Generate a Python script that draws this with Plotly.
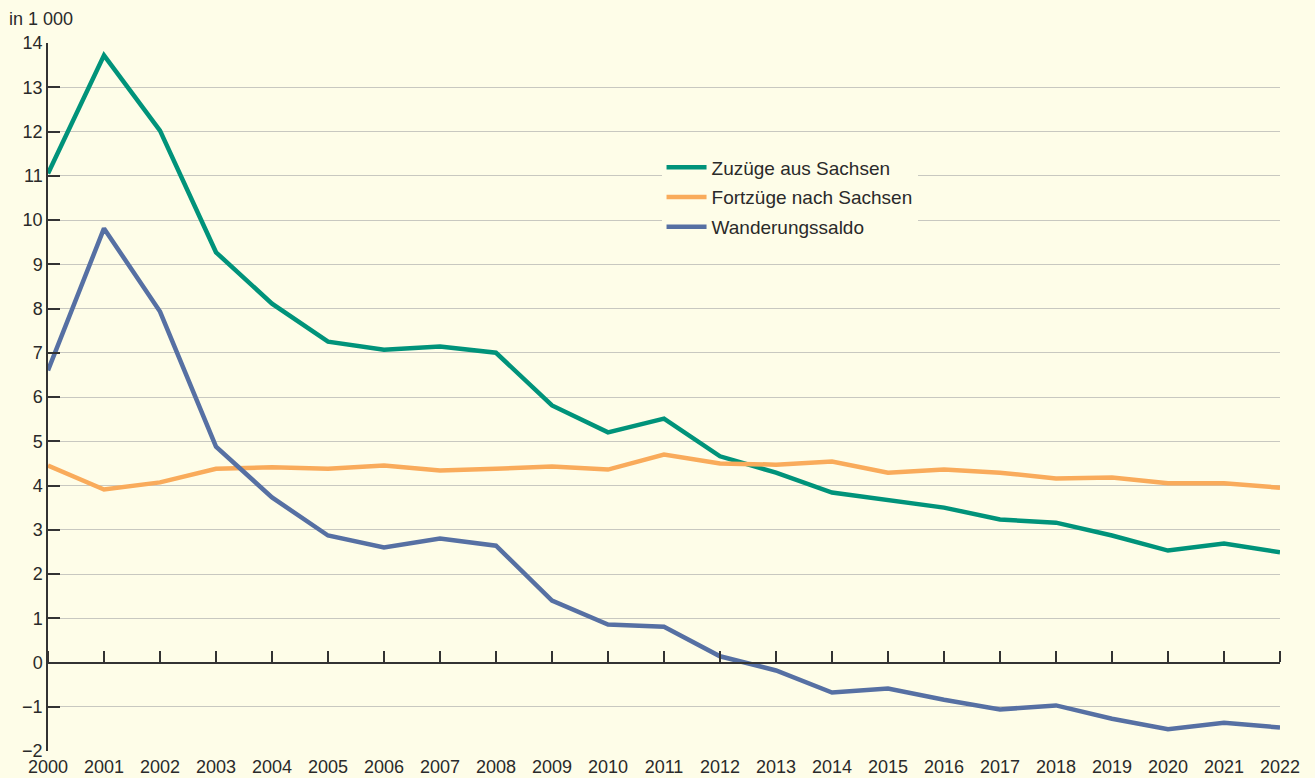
import plotly.graph_objects as go

years = list(range(2000, 2023))
zuzuege = [11.05, 13.72, 12.02, 9.27, 8.11, 7.25, 7.07, 7.14, 7.0, 5.81, 5.2, 5.51,
           4.66, 4.29, 3.84, 3.68, 3.5, 3.23, 3.16, 2.87, 2.53, 2.69, 2.49]
fortzuege = [4.45, 3.91, 4.07, 4.38, 4.41, 4.38, 4.45, 4.34, 4.38, 4.43, 4.36, 4.7,
             4.5, 4.47, 4.54, 4.29, 4.36, 4.29, 4.16, 4.18, 4.05, 4.05, 3.95]
saldo = [6.6, 9.81, 7.93, 4.88, 3.73, 2.87, 2.6, 2.8, 2.64, 1.4, 0.86, 0.81,
         0.14, -0.18, -0.68, -0.59, -0.84, -1.06, -0.97, -1.27, -1.51, -1.36, -1.47]
y_ticks = list(range(-2, 15))

BG = "#FEFDE8"
TXT = "#2a2a2a"
FONT = "Liberation Sans, Arial, sans-serif"
FS = 18
LW = 4.5

fig = go.Figure()
fig.add_trace(go.Scatter(x=years, y=zuzuege, mode="lines", name="Zuzüge aus Sachsen",
                         legendgroup="a", line=dict(color="#00937A", width=LW)))
fig.add_trace(go.Scatter(x=years, y=fortzuege, mode="lines", name="Fortzüge nach Sachsen",
                         legendgroup="b", line=dict(color="#F9AB5B", width=LW)))
fig.add_trace(go.Scatter(x=years, y=saldo, mode="lines", name="Wanderungssaldo",
                         legendgroup="c", line=dict(color="#5670A3", width=LW)))
# invisible trace for zero-line axis with tick marks
fig.add_trace(go.Scatter(x=[years[0], years[-1]], y=[0, 0], xaxis="x2", mode="lines",
                         line=dict(width=0), showlegend=False, hoverinfo="skip"))

fig.update_layout(
    width=1315, height=778,
    paper_bgcolor=BG, plot_bgcolor=BG,
    margin=dict(l=48, r=35, t=43, b=27, autoexpand=False),
    font=dict(family=FONT, size=FS, color=TXT),
    showlegend=True,
    legend=dict(x=0.498, y=0.851, xanchor="left", yanchor="top",
                bgcolor=BG, font=dict(size=19, color=TXT),
                borderwidth=0, tracegroupgap=2, itemwidth=40),
    xaxis=dict(range=[2000, 2022], tickmode="array", tickvals=years,
               ticktext=[str(y) for y in years], showgrid=False, zeroline=False,
               showline=False, ticks="", automargin=False, ticklabelstandoff=3,
               tickfont=dict(size=FS, color=TXT)),
    xaxis2=dict(range=[2000, 2022], overlaying="x", side="top", anchor="free",
                position=2/16, tickmode="array", tickvals=years, ticks="outside",
                ticklen=11, tickwidth=1.5, tickcolor="#333", showticklabels=False,
                showline=True, linecolor="#333", linewidth=1.5, showgrid=False,
                zeroline=False, automargin=False),
    yaxis=dict(range=[-2, 14], tickmode="array", tickvals=y_ticks,
               ticktext=[("\u2212" + str(-v)) if v < 0 else str(v) for v in y_ticks],
               showgrid=True, gridcolor="#C8C8C0", gridwidth=1, zeroline=False,
               showline=True, linecolor="#333", linewidth=1.5, automargin=False,
               ticks="inside", ticklen=12, tickwidth=1.5, tickcolor="#333",
               tickfont=dict(size=FS, color=TXT)),
    annotations=[dict(text="in 1 000", x=0, y=1, xref="paper", yref="paper",
                      xshift=-41, yshift=36, xanchor="left", yanchor="top",
                      showarrow=False, font=dict(size=FS, color=TXT))],
)

fig.write_html("out.html", config={"displayModeBar": False},
               post_script="document.body.style.margin='0px';")
